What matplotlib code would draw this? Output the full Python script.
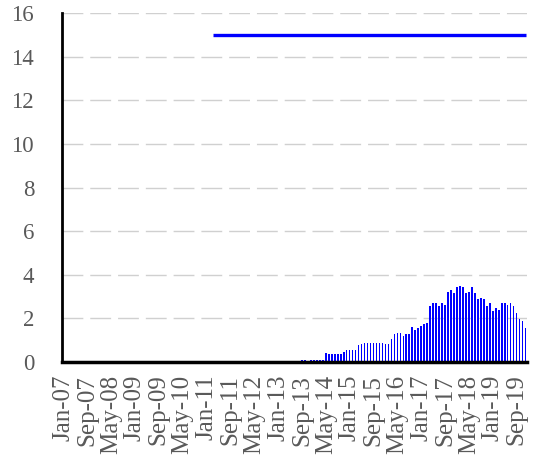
import numpy as np
import pandas as pd
import matplotlib
matplotlib.use('Agg')
import matplotlib.pyplot as plt

plt.rcParams['font.family'] = ['Liberation Serif', 'DejaVu Serif']

# monthly categories Jan-07 .. Dec-19
meses = pd.date_range('2007-01-01', '2019-12-01', freq='MS')
etiquetas = [m.strftime('%b-%y') for m in meses]

# bars, Sep-13 .. Dec-19 (earlier months are zero)
barras_desde = 'Sep-13'
barras = [0.08, 0.08, 0.07, 0.08, 0.08, 0.12, 0.12, 0.12, 0.42, 0.38,
          0.38, 0.38, 0.38, 0.38, 0.48, 0.55, 0.55, 0.55, 0.55, 0.78,
          0.83, 0.89, 0.90, 0.90, 0.90, 0.86, 0.90, 0.90, 0.84, 0.84,
          1.08, 1.28, 1.34, 1.34, 1.20, 1.27, 1.28, 1.62, 1.45, 1.56,
          1.67, 1.73, 1.80, 2.59, 2.70, 2.70, 2.59, 2.70, 2.64, 3.23,
          3.31, 3.19, 3.42, 3.50, 3.42, 3.19, 3.23, 3.42, 3.19, 2.88,
          2.95, 2.88, 2.59, 2.70, 2.36, 2.47, 2.41, 2.70, 2.70, 2.64,
          2.70, 2.59, 2.23, 1.98, 1.88, 1.56]

# horizontal line
linea_desde = 'Mar-11'
linea_valor = 15

n = len(etiquetas)
x = np.arange(n)
i0 = etiquetas.index(barras_desde)
serie_barras = [0.0] * i0 + barras
i1 = etiquetas.index(linea_desde)
serie_linea = [np.nan] * i1 + [linea_valor] * (n - i1)

fig = plt.figure(figsize=(5.34, 4.59), dpi=100)
ax = fig.add_axes([0.116, 0.211, 0.871, 0.761])

ax.bar(x, serie_barras, width=0.55, color='#0000FF', zorder=3)
ax.plot(x, serie_linea, color='#0000FF', linewidth=2.4, solid_capstyle='butt', zorder=4)

ax.set_xlim(-0.5, n - 0.5)
ax.set_ylim(0, 16)
ax.set_yticks(range(0, 17, 2))
ax.set_xticks(x[::8])
ax.set_xticklabels(etiquetas[::8], rotation=90)
ax.tick_params(axis='both', length=0, colors='#595959')
ax.tick_params(axis='y', pad=20, labelsize=16.5)
ax.tick_params(axis='x', pad=9, labelsize=18)

for y in range(2, 17, 2):
    ax.axhline(y, color='#d0d0d0', linestyle=(0, (15, 5)), linewidth=1.0, zorder=1)

for lado in ['top', 'right']:
    ax.spines[lado].set_visible(False)
ax.spines['left'].set_linewidth(2)
ax.spines['bottom'].set_linewidth(2.5)
ax.spines['left'].set_color('black')
ax.spines['bottom'].set_color('black')
ax.spines['bottom'].set_zorder(5)

fig.savefig('out.png', dpi=100)
